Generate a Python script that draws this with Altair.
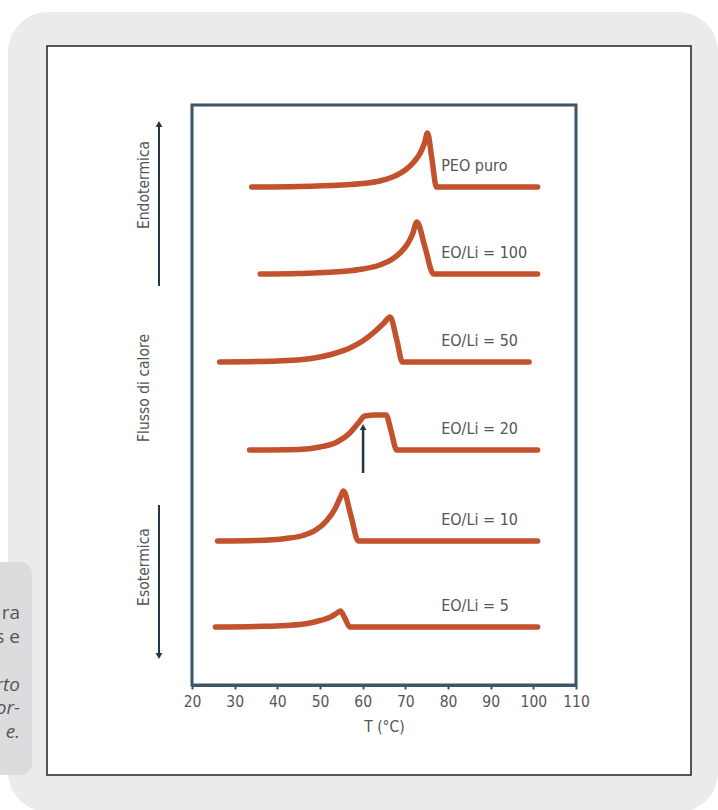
import altair as alt
import pandas as pd

# ---- DSC traces: temperature (°C) and heat-flow rise above each trace's baseline ----
series_names = ["PEO puro", "EO/Li = 100", "EO/Li = 50", "EO/Li = 20", "EO/Li = 10", "EO/Li = 5"]
baselines = [49.8, 41.1, 32.3, 23.5, 14.4, 5.8]

t_peo = [34, 45, 55, 60, 64, 67, 70, 72, 73.5, 74.5, 75.2, 76.2, 77.3, 85, 101]
d_peo = [0, 0.05, 0.2, 0.35, 0.6, 1.0, 1.7, 2.5, 3.4, 4.4, 5.4, 2.9, 0, 0, 0]

t_100 = [36, 45, 55, 60, 64, 67, 69, 70.5, 71.7, 72.7, 74.6, 76.6, 85, 101]
d_100 = [0, 0.05, 0.25, 0.5, 0.9, 1.5, 2.2, 3.0, 4.0, 5.2, 2.7, 0, 0, 0]

t_50 = [26.5, 40, 48, 53, 57, 60, 63, 65, 66.4, 68, 69.3, 80, 99]
d_50 = [0, 0.1, 0.35, 0.8, 1.4, 2.1, 3.1, 3.9, 4.5, 2.2, 0, 0, 0]

t_20 = [33.5, 45, 50, 54, 57, 59, 60.5, 63, 65.5, 66.6, 68, 80, 101]
d_20 = [0, 0.05, 0.3, 0.8, 1.7, 2.7, 3.4, 3.5, 3.5, 2.0, 0, 0, 0]

t_10 = [26, 35, 42, 46, 49, 51.5, 53.5, 54.8, 55.5, 57.2, 59, 80, 101]
d_10 = [0, 0.05, 0.25, 0.55, 1.1, 2.0, 3.2, 4.4, 5.0, 2.6, 0, 0, 0]

t_5 = [25.5, 35, 42, 47, 50, 52.5, 54, 54.8, 55.8, 57, 80, 101]
d_5 = [0, 0.05, 0.15, 0.35, 0.65, 1.0, 1.4, 1.6, 0.9, 0, 0, 0]

temps = [t_peo, t_100, t_50, t_20, t_10, t_5]
rises = [d_peo, d_100, d_50, d_20, d_10, d_5]

# label anchor (°C) and height above baseline
label_t = 78.4
label_dy = 2.1

# onset marker on the EO/Li = 20 trace
marker_t = [60.1]
marker_lo = [21.2]
marker_hi = [25.8]

x_ticks = list(range(20, 115, 5))

rows = []
for name, base, ts, ds in zip(series_names, baselines, temps, rises):
    for i, (t, d) in enumerate(zip(ts, ds)):
        rows.append({"series": name, "order": i, "T": t, "q": base + d})
curves = pd.DataFrame(rows)
labels = pd.DataFrame({"series": series_names, "T": [label_t] * 6,
                       "q": [b + label_dy for b in baselines]})
marker = pd.DataFrame({"T": marker_t, "lo": marker_lo, "hi": marker_hi})

W, H = 384, 580
LINE = "#c2512d"
FRAME = "#3d5568"
TEXT = "#555555"
NARROW = "Liberation Sans Narrow, DejaVu Sans Condensed, sans-serif"

xs = alt.Scale(domain=[20, 110], nice=False)
ys = alt.Scale(domain=[0, 58], nice=False)
one = pd.DataFrame({"k": [0]})


def box(x, x2, y, y2, **kw):
    return alt.Chart(one).mark_rect(**kw).encode(
        x=alt.value(x), x2=alt.value(x2), y=alt.value(y), y2=alt.value(y2))


# page furniture: grey panel, white card, side note box
panel = box(-184, 526, -93, 707, fill="#ebebed", cornerRadius=40)
card = box(-145, 499, -59, 670, fill="#ffffff", stroke="#222222", strokeWidth=1.5)
note = box(-240, -160, 457, 670, fill="#dcdcdf", cornerRadius=12)

# tail ends of the side note's lines
note_plain = pd.DataFrame({"txt": ["ra", "s e"], "y": [508, 532]})
note_ital = pd.DataFrame({"txt": ["rto", "or-", "e."], "y": [580, 603, 627]})
note_a = alt.Chart(note_plain).mark_text(
    align="right", baseline="middle", font="Open Sans", fontSize=19, color=TEXT
).encode(x=alt.value(-172), y=alt.Y("y:Q", scale=None), text="txt:N")
note_b = alt.Chart(note_ital).mark_text(
    align="right", baseline="middle", font="Open Sans", fontSize=19, color=TEXT,
    fontStyle="italic"
).encode(x=alt.value(-172), y=alt.Y("y:Q", scale=None), text="txt:N")

side = pd.DataFrame({"txt": ["Endotermica", "Flusso di calore", "Esotermica"],
                     "y": [80, 283, 462]})
side_txt = alt.Chart(side).mark_text(
    angle=270, align="center", baseline="middle", font=NARROW, fontSize=15.5, color=TEXT
).encode(x=alt.value(-48), y=alt.Y("y:Q", scale=None), text="txt:N")

up_line = alt.Chart(one).mark_rule(color="#233646", strokeWidth=2).encode(
    x=alt.value(-33), y=alt.value(20), y2=alt.value(181))
dn_line = alt.Chart(one).mark_rule(color="#233646", strokeWidth=2).encode(
    x=alt.value(-33), y=alt.value(400), y2=alt.value(550))
up_head = alt.Chart(one).mark_point(shape="triangle-up", filled=True, size=45,
                                    color="#233646", opacity=1).encode(
    x=alt.value(-33), y=alt.value(19))
dn_head = alt.Chart(one).mark_point(shape="triangle-down", filled=True, size=45,
                                    color="#233646", opacity=1).encode(
    x=alt.value(-33), y=alt.value(551))

lines = alt.Chart(curves).mark_line(
    color=LINE, strokeWidth=5.5, strokeCap="round", strokeJoin="round", interpolate="monotone"
).encode(
    x=alt.X("T:Q", scale=xs, axis=alt.Axis(
        values=x_ticks, labelExpr="datum.value % 10 == 0 ? datum.label : ''",
        labelOverlap=False, labelFlush=False, tickSize=4, tickWidth=2, tickColor=FRAME,
        domainColor=FRAME, domainWidth=3, labelFont=NARROW, labelFontSize=15.5,
        labelColor=TEXT, labelPadding=5, title="T (°C)", titleFont=NARROW,
        titleFontSize=15.5, titleFontWeight="normal", titleColor=TEXT,
        titlePadding=10, grid=False, zindex=1)),
    y=alt.Y("q:Q", scale=ys, axis=None),
    detail="series:N",
    order="order:Q",
)

tags = alt.Chart(labels).mark_text(
    align="left", baseline="middle", font=NARROW, fontSize=16, color=TEXT
).encode(x=alt.X("T:Q", scale=xs), y=alt.Y("q:Q", scale=ys), text="series:N")

mark_stem = alt.Chart(marker).mark_rule(color="#233646", strokeWidth=2.5).encode(
    x=alt.X("T:Q", scale=xs), y=alt.Y("lo:Q", scale=ys), y2="hi:Q")
mark_head = alt.Chart(marker).mark_point(shape="triangle-up", filled=True, size=45,
                                         color="#233646", opacity=1).encode(
    x=alt.X("T:Q", scale=xs), y=alt.Y("hi:Q", scale=ys))

frame = box(0, W, 0, H, fill=None, stroke=FRAME, strokeWidth=3)

chart = alt.layer(
    panel, card, note, note_a, note_b, side_txt, up_line, dn_line, up_head, dn_head,
    lines, tags, mark_stem, mark_head, frame
).properties(
    width=W, height=H,
    padding={"left": 192, "top": 105, "right": 142, "bottom": 125},
    autosize=alt.AutoSizeParams(type="none"),
    background="#ffffff",
).configure_view(stroke=None)

chart.save("out.html", embed_options={"renderer": "svg", "actions": False})
